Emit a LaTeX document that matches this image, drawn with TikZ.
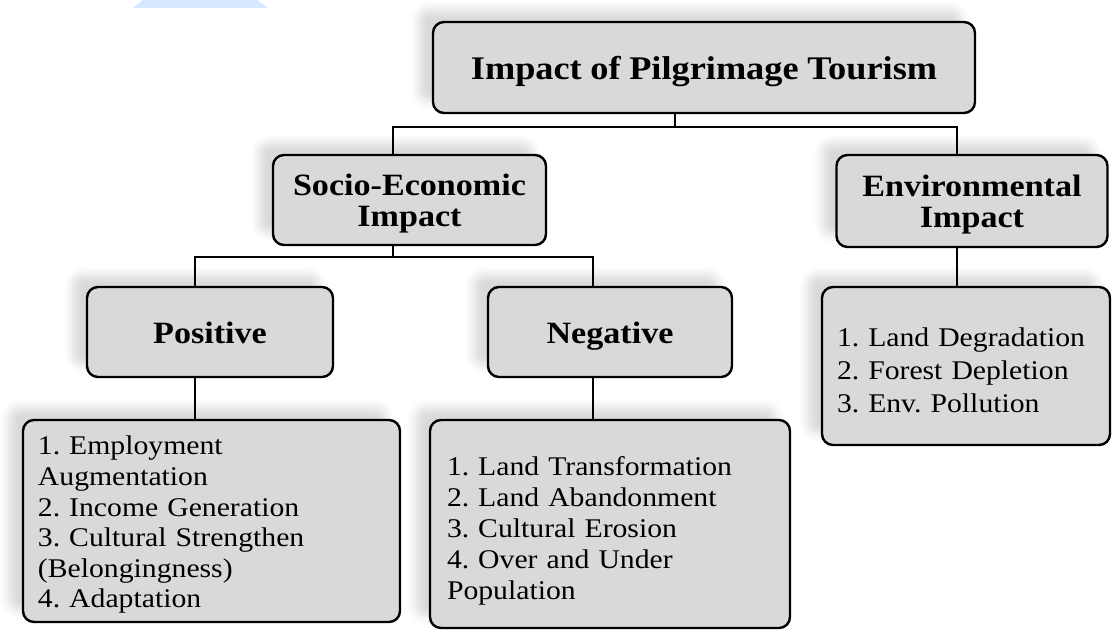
\documentclass[tikz,border=0pt]{standalone}
\usepackage{fontspec}
\setmainfont{Liberation Serif}[FakeStretch=1.1, WordSpace=0.95]
\usetikzlibrary{shadows.blur}
\definecolor{boxfill}{RGB}{217,217,217}
\definecolor{wm}{RGB}{214,232,255}
\tikzset{
  basebox/.style={draw=black, line width=2.4bp, rounded corners=11bp, fill=boxfill,
    blur shadow={shadow xshift=-14bp, shadow yshift=12bp, shadow blur radius=9bp, shadow opacity=15},
    inner sep=0pt},
  headbox/.style={basebox, font=\fontsize{31bp}{30.5bp}\selectfont\bfseries\frenchspacing, align=center},
  listbox/.style={basebox, font=\fontsize{27bp}{30.6bp}\selectfont\frenchspacing, align=left},
  conn/.style={draw=black, line width=2.4bp}
}
\begin{document}
\begin{tikzpicture}[x=1bp,y=-1bp]
\useasboundingbox (0,0) rectangle (1112,632);
\fill[wm] (143,0) -- (257,0) -- (268,8) -- (133,8) -- cycle;

\node[headbox, minimum width=542bp, minimum height=91bp, text height=30bp, text depth=5bp, font=\fontsize{33bp}{30bp}\selectfont\bfseries] (top) at (704,67.5) {Impact of Pilgrimage Tourism};
\node[headbox, minimum width=273bp, minimum height=90bp, text depth=0bp] (socio) at (409.5,200) {Socio-Economic\\Impact};
\node[headbox, minimum width=271bp, minimum height=92bp, text depth=0bp] (env) at (972,201) {Environmental\\Impact};
\node[headbox, minimum width=246bp, minimum height=90bp, text height=27bp, text depth=5bp] (pos) at (210,332) {Positive};
\node[headbox, minimum width=244bp, minimum height=90bp, text height=27bp, text depth=5bp] (neg) at (610,332) {Negative};

\node[listbox, minimum width=377bp, minimum height=202bp, text width=347bp] (poslist) at (211.5,521)
 {\rule{0pt}{26.5bp}1. Employment\\Augmentation\\2. Income Generation\\3. Cultural Strengthen\\(Belongingness)\\4. Adaptation};
\node[listbox, minimum width=360bp, minimum height=208bp, text width=326bp, font=\fontsize{27bp}{31bp}\selectfont\frenchspacing] (neglist) at (610,524)
 {\rule{0pt}{32bp}1. Land Transformation\\2. Land Abandonment\\3. Cultural Erosion\\4. Over and Under\\Population};
\node[listbox, minimum width=288bp, minimum height=158bp, text width=258bp, font=\fontsize{27bp}{33bp}\selectfont\frenchspacing] (envlist) at (966,366)
 {\rule{0pt}{26.5bp}1. Land Degradation\\2. Forest Depletion\\3. Env. Pollution};

% connectors
\coordinate (b1) at (675,127);
\coordinate (b2) at (393,257);
\draw[conn] (top.south -| b1) -- (b1);
\draw[conn] (socio.north -| 393,0) |- (b1) -| (env.north -| 957,0);
\draw[conn] (socio.south -| b2) -- (b2);
\draw[conn] (pos.north -| 195,0) |- (b2) -| (neg.north -| 593,0);
\draw[conn] (pos.south -| 195,0) -- (poslist.north -| 195,0);
\draw[conn] (neg.south -| 593,0) -- (neglist.north -| 593,0);
\draw[conn] (env.south -| 957,0) -- (envlist.north -| 957,0);
\end{tikzpicture}
\end{document}
